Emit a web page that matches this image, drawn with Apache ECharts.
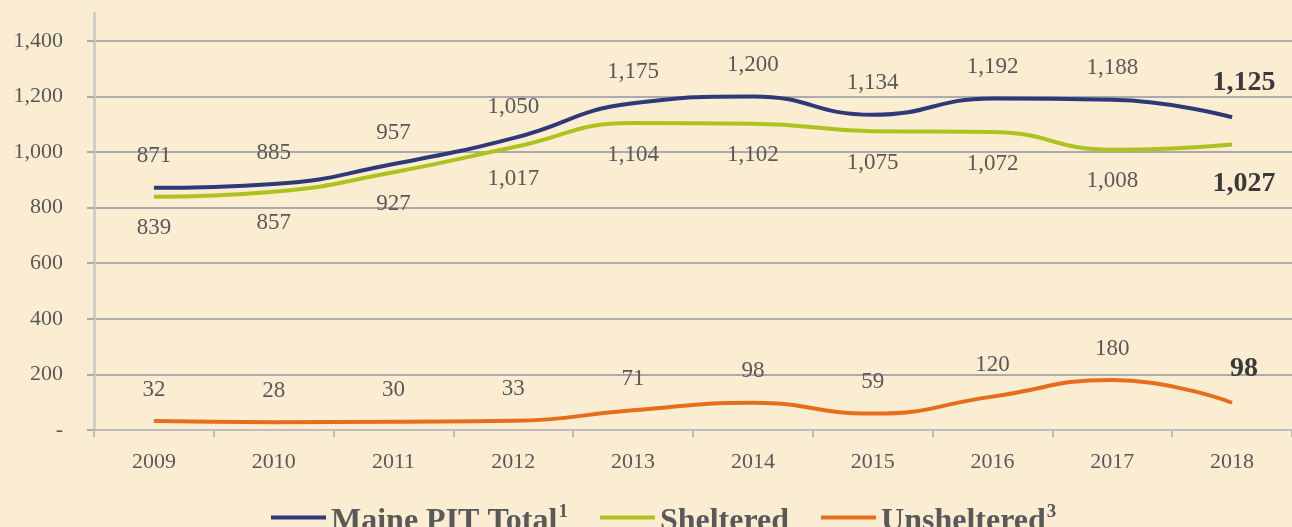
<!DOCTYPE html>
<html lang="en">

<head>
    <meta charset="UTF-8">
    <title>Maine PIT Count</title>
    <script src="https://cdn.jsdelivr.net/npm/echarts@6/dist/echarts.min.js"></script>
    <style>
        html, body { margin: 0; padding: 0; background: #FAEDD1; }
        #chart { width: 1292px; height: 527px; }
    </style>
</head>

<body>
    <div id="chart"></div>
    <script>
        // data
        var years = ['2009', '2010', '2011', '2012', '2013', '2014', '2015', '2016', '2017', '2018'];
        var totalData = [871, 885, 957, 1050, 1175, 1200, 1134, 1192, 1188, 1125];
        var shelteredData = [839, 857, 927, 1017, 1104, 1102, 1075, 1072, 1008, 1027];
        var unshelteredData = [32, 28, 30, 33, 71, 98, 59, 120, 180, 98];
        var yTicks = [0, 200, 400, 600, 800, 1000, 1200, 1400];

        var font = 'Liberation Serif';
        var textGray = '#595959';

        function fmt(v) {
            return v.toLocaleString('en-US');
        }

        // last point gets the bold, bigger label
        function buildData(arr, pos) {
            return arr.map(function (v, i) {
                if (i !== arr.length - 1) return v;
                return {
                    value: v,
                    label: {
                        fontSize: 28,
                        fontWeight: 'bold',
                        color: '#3a3a3a',
                        distance: 22,
                        offset: [12, pos === 'top' ? 2 : 3]
                    }
                };
            });
        }

        function makeSeries(name, arr, color, pos) {
            return {
                name: name,
                type: 'line',
                smooth: 0.5,
                showSymbol: true,
                symbol: 'circle',
                symbolSize: 0,
                data: buildData(arr, pos),
                lineStyle: { color: color, width: 4 },
                itemStyle: { color: color },
                label: {
                    show: true,
                    position: pos,
                    distance: 20,
                    fontFamily: font,
                    fontSize: 23,
                    color: textGray,
                    formatter: function (p) { return fmt(p.value); }
                }
            };
        }

        var myChart = echarts.init(document.getElementById('chart'));

        var option = {
            backgroundColor: '#FAEDD1',
            animation: false,
            grid: {
                left: 94,
                right: -8,
                top: 13,
                bottom: 97
            },
            legend: {
                top: 498,
                left: 266,
                icon: 'rect',
                itemWidth: 55,
                itemHeight: 4,
                itemGap: 32,
                textStyle: {
                    fontFamily: font,
                    fontSize: 32,
                    fontWeight: 'bold',
                    color: textGray,
                    rich: {
                        b: { fontFamily: font, fontSize: 32, fontWeight: 'bold', color: textGray, padding: [8, 0, 0, 0] },
                        s: { fontFamily: font, fontSize: 19, color: textGray, padding: [0, 0, 10, 1] }
                    }
                },
                data: ['Maine PIT Total', 'Sheltered', 'Unsheltered'],
                formatter: function (name) {
                    if (name === 'Maine PIT Total') return '{b|' + name + '}{s|1}';
                    if (name === 'Unsheltered') return '{b|' + name + '}{s|3}';
                    return '{b|' + name + '}';
                }
            },
            xAxis: {
                type: 'category',
                data: years,
                boundaryGap: true,
                axisLine: { lineStyle: { color: '#BDBDBD', width: 2 } },
                axisTick: { show: true, length: 7, lineStyle: { color: '#BDBDBD', width: 2 } },
                axisLabel: {
                    margin: 21,
                    fontFamily: font,
                    fontSize: 22,
                    color: textGray
                }
            },
            yAxis: {
                type: 'value',
                min: 0,
                max: 1500,
                interval: 100,
                axisLine: { show: true, lineStyle: { color: '#C8C8C8', width: 2.5 } },
                axisTick: { show: true, length: 7, customValues: yTicks, lineStyle: { color: '#ABABAB', width: 2 } },
                splitLine: { show: true, lineStyle: { color: '#ABABAB', width: 2 } },
                axisLabel: {
                    margin: 31,
                    fontFamily: font,
                    fontSize: 22,
                    color: textGray,
                    customValues: yTicks,
                    formatter: function (v) { return v === 0 ? '-' : fmt(v); }
                }
            },
            series: [
                makeSeries('Maine PIT Total', totalData, '#2E3A77', 'top'),
                makeSeries('Sheltered', shelteredData, '#AEC21E', 'bottom'),
                makeSeries('Unsheltered', unshelteredData, '#E56D1C', 'top')
            ]
        };

        myChart.setOption(option);
    </script>
</body>

</html>
